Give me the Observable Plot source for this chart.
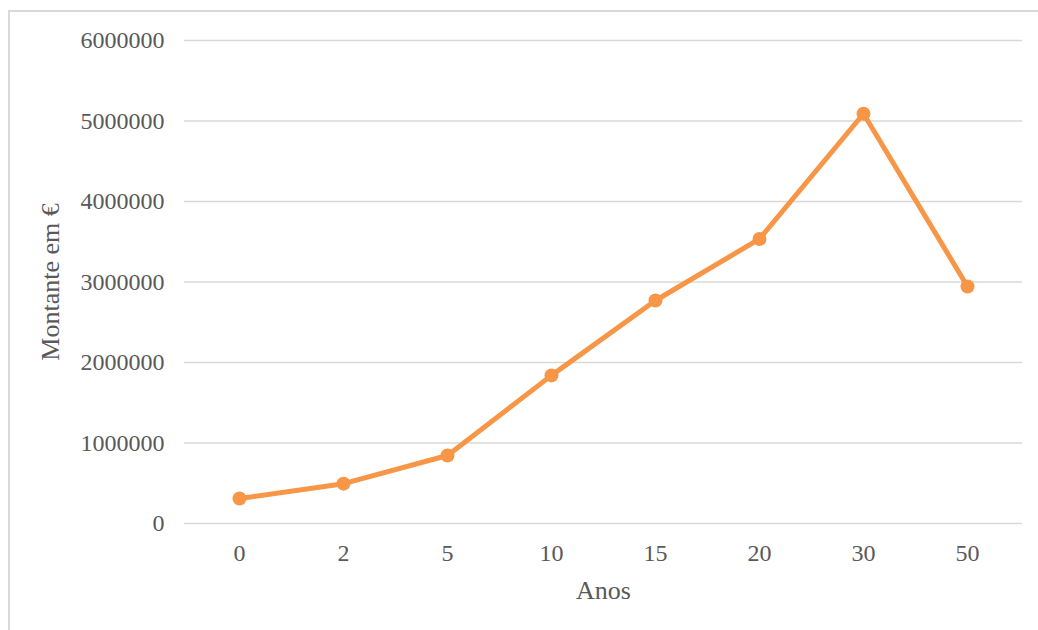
<!DOCTYPE html>
<html>
<head>
<meta charset="utf-8">
<script src="https://cdn.jsdelivr.net/npm/d3@7"></script>
<script src="https://cdn.jsdelivr.net/npm/@observablehq/plot@0.6"></script>
<style>
  html, body { margin: 0; padding: 0; background: #fff; overflow: hidden; }
  #wrap { position: relative; width: 1038px; height: 630px; }
  #border {
    position: absolute; left: 8px; top: 10px; width: 2000px; height: 2000px;
    border-left: 2px solid #d9d9d9; border-top: 2px solid #d9d9d9;
    pointer-events: none;
  }
  #chart { position: absolute; left: 0; top: 0; }
</style>
</head>
<body>
<div id="wrap">
  <div id="border"></div>
  <div id="chart"></div>
</div>
<script>
// Years since start and the accumulated amount (euros)
const years = ["0", "2", "5", "10", "15", "20", "30", "50"];
const amounts = [310000, 495000, 845000, 1840000, 2770000, 3535000, 5090000, 2945000];
const yTicks = [0, 1000000, 2000000, 3000000, 4000000, 5000000, 6000000];
const xTitle = "Anos";
const yTitle = "Montante em €";

const data = years.map((y, i) => ({year: y, amount: amounts[i]}));

const font = "'Liberation Serif', 'Times New Roman', serif";
const textColor = "#595959";
const lineColor = "#F79646";

const chart = Plot.plot({
  width: 1038,
  height: 630,
  marginLeft: 184,
  marginRight: 16,
  marginTop: 40,
  marginBottom: 107,
  style: {fontFamily: font, fontSize: "24px", color: textColor, background: "transparent"},
  x: {type: "point", domain: years, padding: 0.5, label: null},
  y: {domain: [0, 6000000], label: null},
  marks: [
    Plot.gridY(yTicks, {stroke: "#d9d9d9", strokeOpacity: 1, strokeWidth: 1.5}),
    Plot.axisY(yTicks, {tickSize: 0, tickPadding: 20, tickFormat: d => String(d), fontSize: 24, fill: textColor, label: null}),
    Plot.axisX({tickSize: 0, tickPadding: 20, fontSize: 24, fill: textColor, label: null}),
    Plot.line(data, {x: "year", y: "amount", stroke: lineColor, strokeWidth: 5, strokeLinejoin: "round", strokeLinecap: "round"}),
    Plot.dot(data, {x: "year", y: "amount", r: 7, fill: lineColor, stroke: "none"}),
    // axis titles
    Plot.text([xTitle], {frameAnchor: "bottom", text: d => d, textAnchor: "middle", lineAnchor: "middle", dy: 67, fontSize: 26, fill: textColor}),
    Plot.text([yTitle], {frameAnchor: "left", text: d => d, textAnchor: "middle", lineAnchor: "middle", rotate: -90, dx: -134, fontSize: 26, fill: textColor})
  ]
});
document.getElementById("chart").appendChild(chart);
</script>
</body>
</html>
